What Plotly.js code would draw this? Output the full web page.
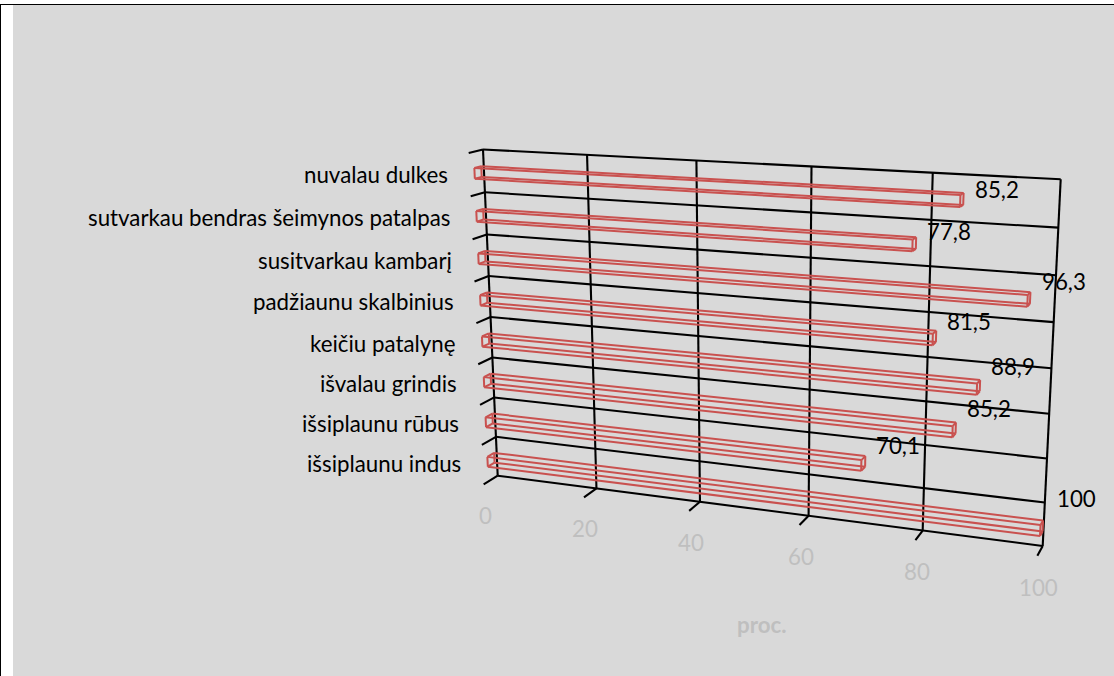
<!DOCTYPE html>
<html><head><meta charset="utf-8">
<script src="https://cdn.plot.ly/plotly-3.0.1.min.js"></script>
<style>html,body{margin:0;padding:0;background:#fff}#chart{width:1114px;height:676px}</style>
</head><body><div id="chart"></div>
<script>
// ---- data ----
const categories = ["nuvalau dulkes","sutvarkau bendras šeimynos patalpas","susitvarkau kambarį","padžiaunu skalbinius","keičiu patalynę","išvalau grindis","išsiplaunu rūbus","išsiplaunu indus"];
const values = [85.2,77.8,96.3,81.5,88.9,85.2,70.1,100];
const valueText = ["85,2","77,8","96,3","81,5","88,9","85,2","70,1","100"];
const valueTicks = [0,20,40,60,80,100];
const axisTitle = "proc.";

// ---- 3D view of the Excel-style chart ----
const lift = [10,13,18,17,21,21,18,30];
const WALL = {p00:[483,149.5],p10:[1060.7,179.3],p01:[497.7,475.7],p11:[1042.7,546]};
const VP = [1376,-64];
const H = (function(){
  const [x0,y0]=WALL.p00,[x1,y1]=WALL.p10,[x2,y2]=WALL.p01,[x3,y3]=WALL.p11;
  const dx1=x1-x3,dx2=x2-x3,sx=x0-x1+x3-x2,dy1=y1-y3,dy2=y2-y3,sy=y0-y1+y3-y2;
  const det=dx1*dy2-dx2*dy1,g=(sx*dy2-dx2*sy)/det,h=(dx1*sy-sx*dy1)/det;
  return {a:x1-x0+g*x1,b:x2-x0+h*x2,c:x0,d:y1-y0+g*y1,e:y2-y0+h*y2,f:y0,g,h};
})();
function project(value,cat,depth){
  const u=value/100,v=cat/categories.length,w=H.g*u+H.h*v+1;
  const x=(H.a*u+H.b*v+H.c)/w,y=(H.d*u+H.e*v+H.f)/w,d=depth||0;
  return [x-(VP[0]-x)*d,y-(VP[1]-y)*d];
}
function segs(list){
  const xs=[],ys=[];
  list.forEach(([a,b])=>{xs.push(a[0],b[0],null);ys.push(a[1],b[1],null);});
  return {x:xs,y:ys};
}
const TICK=0.016, D1=0.0028, D2=0.0105, HALF=0.125;
const grid=[];
valueTicks.forEach(t=>{
  grid.push([project(t,0),project(t,categories.length)]);
  grid.push([project(t,categories.length),project(t,categories.length,TICK)]);
});
categories.forEach((_,i)=>{
  grid.push([project(0,i),project(100,i)]);
  grid.push([project(0,i),project(0,i,TICK)]);
});
grid.push([project(0,categories.length),project(100,categories.length)]);
const traces=[Object.assign({type:'scatter',mode:'lines',line:{color:'#000',width:2.1},hoverinfo:'skip',showlegend:false},segs(grid))];
values.forEach((val,i)=>{
  const c0=i+0.5-HALF,c1=i+0.5+HALF,e=[];
  const box=(v,c,d)=>project(v,c,d);
  [D1,D2].forEach(d=>{
    e.push([box(0,c0,d),box(val,c0,d)],[box(0,c1,d),box(val,c1,d)],[box(0,c0,d),box(0,c1,d)],[box(val,c0,d),box(val,c1,d)]);
  });
  [[0,c0],[0,c1],[val,c0],[val,c1]].forEach(([v,c])=>e.push([box(v,c,D1),box(v,c,D2)]));
  traces.push(Object.assign({type:'scatter',mode:'lines',name:categories[i],line:{color:'#C9514F',width:2},hoverinfo:'skip',showlegend:false},segs(e)));
});
const F="Lato, Carlito, sans-serif", FS=22.3;
const ann=[];
categories.forEach((c,i)=>{
  const p=project(0,i+0.5);
  ann.push({x:p[0],y:p[1],xref:'x',yref:'y',text:c,showarrow:false,xanchor:'right',yanchor:'middle',xshift:-34,yshift:-(4+i*0.45),font:{family:F,size:FS,color:'#000'}});
  const q=project(values[i],i+0.5,(D1+D2)/2);
  ann.push({x:q[0],y:q[1],xref:'x',yref:'y',text:valueText[i],showarrow:false,xanchor:'center',yanchor:'middle',xshift:35,yshift:lift[i],font:{family:F,size:FS,color:'#000'}});
});
valueTicks.forEach(t=>{
  const p=project(t,categories.length,TICK);
  ann.push({x:p[0],y:p[1],xref:'x',yref:'y',text:String(t),showarrow:false,xanchor:'center',yanchor:'middle',xshift:1.5,yshift:-31.5,font:{family:F,size:FS,color:'#BFBFBF'}});
});
ann.push({xref:'paper',yref:'paper',x:762/1114,y:1-624.5/676,text:'<b>'+axisTitle+'</b>',showarrow:false,xanchor:'center',yanchor:'middle',font:{family:F,size:FS,color:'#BFBFBF'}});
const layout={
  width:1114,height:676,margin:{l:0,r:0,t:0,b:0,pad:0},paper_bgcolor:'#fff',plot_bgcolor:'rgba(0,0,0,0)',showlegend:false,
  xaxis:{range:[0,1114],visible:false,fixedrange:true},
  yaxis:{range:[676,0],visible:false,fixedrange:true},
  shapes:[
    {type:'rect',layer:'below',xref:'paper',yref:'paper',x0:13/1114,x1:1,y0:0,y1:1-5/676,fillcolor:'#D9D9D9',line:{width:0}},
    {type:'rect',layer:'below',xref:'paper',yref:'paper',x0:0,x1:1,y0:1-5/676,y1:1-4/676,fillcolor:'#000',line:{width:0}},
    {type:'rect',layer:'below',xref:'paper',yref:'paper',x0:0,x1:1/1114,y0:0,y1:1-4/676,fillcolor:'#000',line:{width:0}}
  ],
  annotations:ann
};
Plotly.newPlot('chart',traces,layout,{displayModeBar:false,staticPlot:true});
</script></body></html>
